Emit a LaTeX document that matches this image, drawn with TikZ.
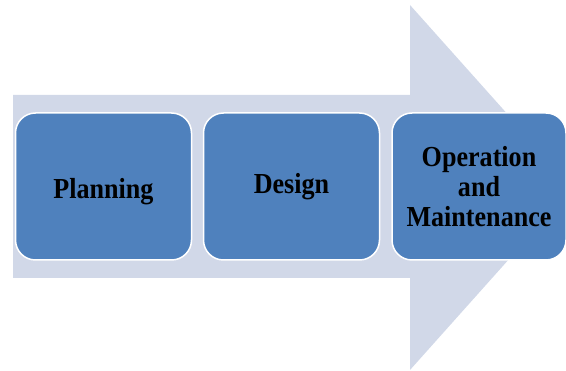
\documentclass[tikz,border=0pt]{standalone}
\usepackage{fontspec}
\setmainfont{Liberation Serif}[FakeStretch=0.9]
\definecolor{shaftgray}{HTML}{D1D8E8}
\definecolor{stageblue}{HTML}{4F81BD}
\tikzset{
  stage/.style={rectangle, rounded corners=20pt, draw=white, line width=1.5pt,
    fill=stageblue, minimum width=176pt, minimum height=147pt, align=center,
    font=\fontsize{29}{30}\selectfont\bfseries, text=black}
}
\begin{document}
\begin{tikzpicture}[x=1pt,y=-1pt]
\useasboundingbox (0,0) rectangle (566,371);

% big arrow behind the stages
\fill[shaftgray] (13,95) -- (410,95) -- (410,5) -- (573,187.5) -- (410,370)
  -- (410,278) -- (13,278) -- cycle;

\node[stage] (plan) at (103.5,186.5) {\raisebox{-5pt}[\height][\depth]{Planning}};
\node[stage] (design) at (291.5,186.5) {Design};
\node[stage, minimum width=174pt] (ops) at (479,186.5) {Operation\\and\\Maintenance};

\end{tikzpicture}
\end{document}
